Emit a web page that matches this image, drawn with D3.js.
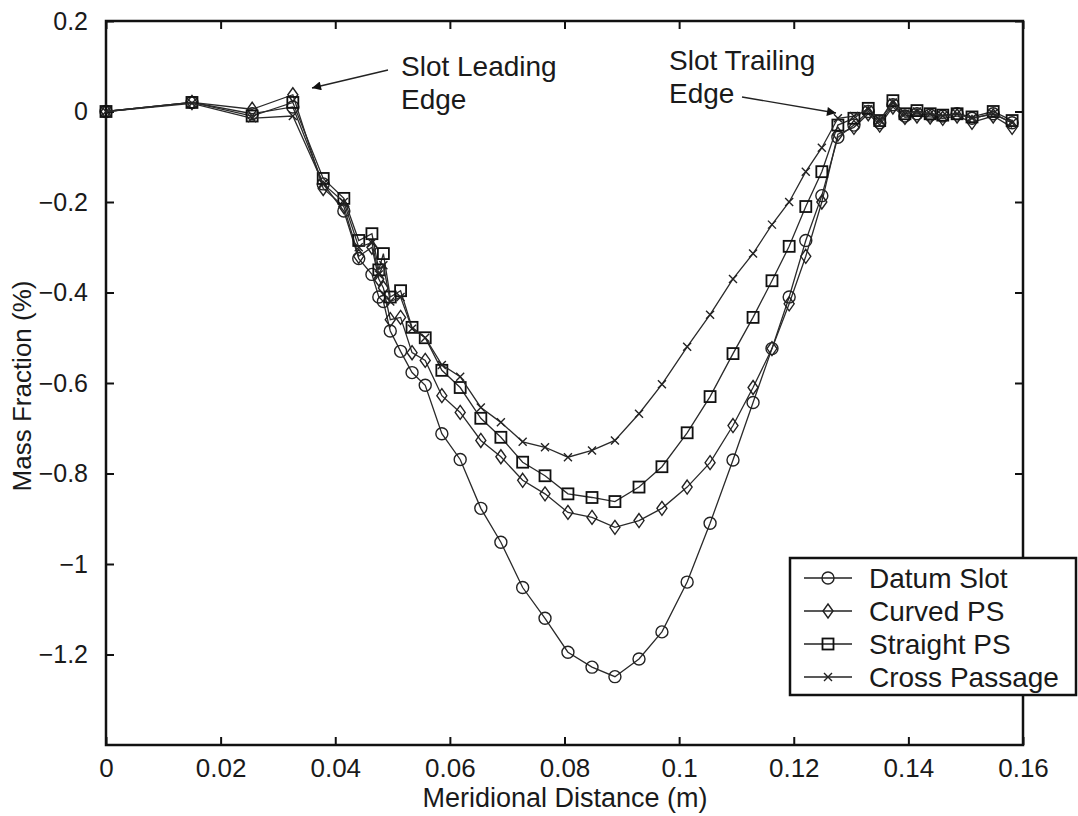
<!DOCTYPE html>
<html><head><meta charset="utf-8">
<script src="https://cdn.jsdelivr.net/npm/d3@7"></script>
<style>body{margin:0;background:#fff}svg{display:block}text{font-family:"Liberation Sans",Arial,sans-serif;fill:#1a1a1a}</style>
</head><body><div id="chart"></div>
<script>
const xVals = [0, 0.015, 0.0255, 0.0326, 0.0379, 0.0415, 0.0441, 0.0464, 0.0476, 0.0484, 0.0496, 0.0514, 0.0534, 0.0557, 0.0586, 0.0618, 0.0654, 0.0689, 0.0727, 0.0766, 0.0806, 0.0848, 0.0888, 0.0930, 0.0970, 0.1014, 0.1054, 0.1094, 0.1129, 0.1162, 0.1192, 0.1221, 0.1249, 0.1277, 0.1305, 0.1330, 0.1350, 0.1373, 0.1394, 0.1415, 0.1438, 0.1460, 0.1485, 0.1511, 0.1548, 0.1581];
const datumSlot = [0, 0.02, -0.005, 0.01, -0.16, -0.22, -0.325, -0.36, -0.41, -0.42, -0.485, -0.53, -0.577, -0.605, -0.712, -0.769, -0.877, -0.952, -1.052, -1.12, -1.195, -1.228, -1.249, -1.21, -1.15, -1.04, -0.91, -0.77, -0.643, -0.524, -0.41, -0.285, -0.186, -0.057, -0.03, 0.0, -0.025, 0.015, -0.01, -0.005, -0.008, -0.01, -0.005, -0.015, -0.005, -0.025];
const curvedPS = [0, 0.02, 0.005, 0.037, -0.17, -0.21, -0.32, -0.30, -0.37, -0.39, -0.46, -0.455, -0.533, -0.55, -0.628, -0.665, -0.727, -0.763, -0.815, -0.845, -0.886, -0.897, -0.919, -0.904, -0.877, -0.83, -0.776, -0.694, -0.61, -0.524, -0.425, -0.32, -0.2, -0.05, -0.035, -0.005, -0.03, 0.01, -0.013, -0.01, -0.012, -0.015, -0.01, -0.024, -0.01, -0.035];
const straightPS = [0, 0.02, -0.01, 0.02, -0.148, -0.192, -0.285, -0.27, -0.35, -0.314, -0.41, -0.396, -0.477, -0.50, -0.572, -0.61, -0.678, -0.72, -0.775, -0.805, -0.845, -0.853, -0.862, -0.83, -0.785, -0.71, -0.63, -0.535, -0.455, -0.374, -0.298, -0.21, -0.133, -0.03, -0.015, 0.007, -0.02, 0.024, -0.005, 0.002, -0.005, -0.008, -0.005, -0.012, 0.0, -0.02];
const crossPassage = [0, 0.018, -0.015, -0.01, -0.16, -0.2, -0.3, -0.29, -0.36, -0.34, -0.42, -0.41, -0.48, -0.5, -0.56, -0.586, -0.654, -0.687, -0.73, -0.742, -0.764, -0.749, -0.727, -0.668, -0.603, -0.52, -0.449, -0.37, -0.314, -0.25, -0.2, -0.133, -0.08, -0.015, -0.01, 0.005, -0.02, 0.02, -0.005, 0.0, -0.005, -0.01, -0.005, -0.015, -0.005, -0.025];
const seriesNames = ["Datum Slot", "Curved PS", "Straight PS", "Cross Passage"];
const seriesMarkers = ["circle", "diamond", "square", "cross"];
const xTicks = [0, 0.02, 0.04, 0.06, 0.08, 0.1, 0.12, 0.14, 0.16];
const yTicks = [0.2, 0, -0.2, -0.4, -0.6, -0.8, -1, -1.2];

const W = 1078, H = 816;
const L = 106, R = 1023, T = 21, B = 745;
const FONT = "Liberation Sans, Arial, sans-serif";
const svg = d3.select("#chart").append("svg").attr("width", W).attr("height", H);
const x = d3.scaleLinear().domain([0, 0.16]).range([L, R]);
const y = d3.scaleLinear().domain([-1.4, 0.2]).range([B, T]);
const fmt = v => (v === 0 ? "0" : String(v)).replace("-", "\u2212");

const tl = 8;
const g = svg.append("g");
g.append("g").attr("transform", `translate(0,${B})`)
  .call(d3.axisBottom(x).tickValues(xTicks).tickSizeInner(-tl).tickSizeOuter(0).tickPadding(14).tickFormat(fmt))
  .call(s => { s.select(".domain").remove(); s.selectAll("line").attr("stroke", "#111").attr("stroke-width", 2);
    s.selectAll("text").attr("font-size", 26).attr("fill", "#1a1a1a").attr("font-family", FONT); });
g.append("g").attr("transform", `translate(0,${T})`)
  .call(d3.axisTop(x).tickValues(xTicks).tickSizeInner(-tl).tickSizeOuter(0).tickFormat(""))
  .call(s => { s.select(".domain").remove(); s.selectAll("line").attr("stroke", "#111").attr("stroke-width", 2); });
g.append("g").attr("transform", `translate(${L},0)`)
  .call(d3.axisLeft(y).tickValues(yTicks).tickSizeInner(-tl).tickSizeOuter(0).tickPadding(18).tickFormat(fmt))
  .call(s => { s.select(".domain").remove(); s.selectAll("line").attr("stroke", "#111").attr("stroke-width", 2);
    s.selectAll("text").attr("font-size", 25).attr("fill", "#1a1a1a").attr("font-family", FONT); });
g.append("g").attr("transform", `translate(${R},0)`)
  .call(d3.axisRight(y).tickValues(yTicks).tickSizeInner(-tl).tickSizeOuter(0).tickFormat(""))
  .call(s => { s.select(".domain").remove(); s.selectAll("line").attr("stroke", "#111").attr("stroke-width", 2); });
svg.append("rect").attr("x", L).attr("y", T).attr("width", R - L).attr("height", B - T)
  .attr("fill", "none").attr("stroke", "#111").attr("stroke-width", 2.5);

svg.append("text").attr("x", 565).attr("y", 807).attr("text-anchor", "middle")
  .attr("font-size", 27).text("Meridional Distance (m)");
svg.append("text").attr("transform", `translate(31,386) rotate(-90)`).attr("text-anchor", "middle")
  .attr("font-size", 26).text("Mass Fraction (%)");

function drawMarker(sel, type, cx, cy) {
  let m;
  if (type === "circle") m = sel.append("circle").attr("cx", cx).attr("cy", cy).attr("r", 6);
  else if (type === "diamond") m = sel.append("path").attr("d", `M${cx},${cy - 7}L${cx + 5},${cy}L${cx},${cy + 7}L${cx - 5},${cy}Z`);
  else if (type === "square") m = sel.append("rect").attr("x", cx - 5.5).attr("y", cy - 5.5).attr("width", 11).attr("height", 11);
  else m = sel.append("path").attr("d", `M${cx - 4},${cy - 4}L${cx + 4},${cy + 4}M${cx - 4},${cy + 4}L${cx + 4},${cy - 4}`);
  m.attr("fill", "none").attr("stroke", "#222").attr("stroke-width", 1.4);
  if (type === "square") m.attr("stroke-width", 1.8).attr("stroke", "#111");
}

const allSeries = [datumSlot, curvedPS, straightPS, crossPassage];
const line = d3.line().x((d, i) => x(xVals[i])).y(d => y(d));
const plot = svg.append("g");
allSeries.forEach((vals, si) => {
  plot.append("path").datum(vals).attr("d", line).attr("fill", "none").attr("stroke", "#2a2a2a").attr("stroke-width", 1.3);
  const mg = plot.append("g");
  vals.forEach((v, i) => drawMarker(mg, seriesMarkers[si], x(xVals[i]), y(v)));
});

const defs = svg.append("defs");
defs.append("marker").attr("id", "ah").attr("viewBox", "0 0 10 10").attr("refX", 10).attr("refY", 5)
  .attr("markerWidth", 14).attr("markerHeight", 9).attr("markerUnits", "userSpaceOnUse").attr("orient", "auto")
  .append("path").attr("d", "M0,0L10,5L0,10Z").attr("fill", "#111");
svg.append("line").attr("x1", 388).attr("y1", 70).attr("x2", 312).attr("y2", 88)
  .attr("stroke", "#222").attr("stroke-width", 1.3).attr("marker-end", "url(#ah)");
svg.append("text").attr("x", 401).attr("y", 76).attr("font-size", 28).text("Slot Leading");
svg.append("text").attr("x", 401).attr("y", 109).attr("font-size", 28).text("Edge");
svg.append("line").attr("x1", 742).attr("y1", 97).attr("x2", 836).attr("y2", 113)
  .attr("stroke", "#222").attr("stroke-width", 1.3).attr("marker-end", "url(#ah)");
svg.append("text").attr("x", 669).attr("y", 70).attr("font-size", 28).text("Slot Trailing");
svg.append("text").attr("x", 669).attr("y", 103).attr("font-size", 28).text("Edge");

const lg = svg.append("g");
lg.append("rect").attr("x", 790).attr("y", 558).attr("width", 286).attr("height", 137)
  .attr("fill", "#fff").attr("stroke", "#111").attr("stroke-width", 2.5);
const rowY = [578, 611, 644, 677];
seriesNames.forEach((name, i) => {
  lg.append("line").attr("x1", 804).attr("x2", 852).attr("y1", rowY[i]).attr("y2", rowY[i])
    .attr("stroke", "#222").attr("stroke-width", 1.3);
  drawMarker(lg, seriesMarkers[i], 828, rowY[i]);
  lg.append("text").attr("x", 869).attr("y", rowY[i] + 10).attr("font-size", 28).text(name);
});
</script></body></html>
